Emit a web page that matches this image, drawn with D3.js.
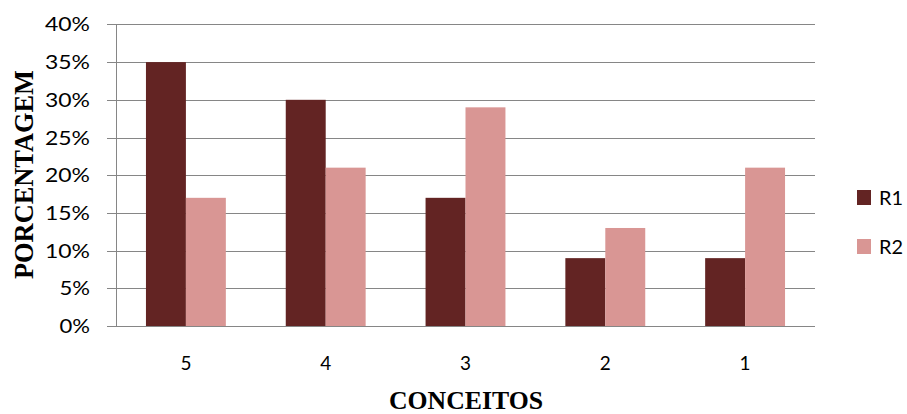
<!DOCTYPE html>
<html><head><meta charset="utf-8">
<script src="https://cdn.jsdelivr.net/npm/d3@7/dist/d3.min.js"></script>
<style>body{margin:0;background:#fff}svg{display:block}</style>
</head><body>
<script>
const categories = ["5","4","3","2","1"];
const seriesNames = ["R1","R2"];
const r1Values = [35,30,17,9,9];
const r2Values = [17,21,29,13,21];
const yTicks = [0,5,10,15,20,25,30,35,40];
const colors = ["#632423","#D99694"];

(function(){
const W=907,H=414;
const svg=d3.select("body").append("svg").attr("width",W).attr("height",H);
const pLeft=116,pRight=815,pTop=24.4,pBottom=326;
const xs=d3.scaleBand().domain(categories).range([pLeft,pRight]);
// Excel gap width 150%: bar w = band/3.5
const barW=xs.bandwidth()/3.5;
const y=d3.scaleLinear().domain([0,40]).range([pBottom,pTop]);

// gridlines
svg.append("g").selectAll("line").data(yTicks).join("line")
  .attr("x1",107).attr("x2",pRight).attr("y1",d=>Math.round(y(d))+0.5).attr("y2",d=>Math.round(y(d))+0.5)
  .attr("stroke","#868686").attr("stroke-width",1);
// y axis line
svg.append("line").attr("x1",pLeft+0.5).attr("x2",pLeft+0.5).attr("y1",Math.round(y(40))).attr("y2",pBottom+0.5)
  .attr("stroke","#868686");
// tick labels
svg.append("g").selectAll("text").data(yTicks).join("text")
  .attr("x",90).attr("y",d=>y(d)+7).attr("text-anchor","end")
  .attr("font-family","Lato, sans-serif").attr("font-size",19).attr("fill","#000")
  .attr("textLength",d=>String(d).length*14.5+16).attr("lengthAdjust","spacingAndGlyphs")
  .text(d=>d+"%");

const data=categories.map((c,i)=>({c,vals:[r1Values[i],r2Values[i]]}));
const g=svg.append("g");
data.forEach(d=>{
  const cx=xs(d.c)+xs.bandwidth()/2;
  d.vals.forEach((v,j)=>{
    g.append("rect").attr("x",cx-barW+j*barW).attr("width",barW)
      .attr("y",y(v)).attr("height",pBottom-y(v)).attr("fill",colors[j]);
  });
});
// bottom axis line drawn on top
svg.append("line").attr("x1",107).attr("x2",pRight).attr("y1",pBottom+0.5).attr("y2",pBottom+0.5).attr("stroke","#868686");

// category labels
svg.append("g").selectAll("text").data(categories).join("text")
  .attr("x",d=>xs(d)+xs.bandwidth()/2).attr("y",370).attr("text-anchor","middle")
  .attr("font-family","Lato, sans-serif").attr("font-size",20).attr("fill","#000")
  .attr("textLength",11).attr("lengthAdjust","spacingAndGlyphs")
  .text(d=>d);

// axis titles
svg.append("text").attr("x",466).attr("y",409).attr("text-anchor","middle")
  .attr("font-family","Liberation Serif, Times New Roman, serif").attr("font-weight","bold").attr("font-size",25)
  .attr("textLength",154).attr("lengthAdjust","spacingAndGlyphs").text("CONCEITOS");
svg.append("text").attr("transform","translate(33,174.5) rotate(-90)").attr("text-anchor","middle")
  .attr("font-family","Liberation Serif, Times New Roman, serif").attr("font-weight","bold").attr("font-size",28)
  .attr("textLength",209).attr("lengthAdjust","spacingAndGlyphs").text("PORCENTAGEM");

// legend
const leg=svg.append("g").selectAll("g").data(seriesNames).join("g")
  .attr("transform",(d,i)=>`translate(857,${190+i*49})`);
leg.append("rect").attr("width",14).attr("height",15).attr("fill",(d,i)=>colors[i]);
leg.append("text").attr("x",22).attr("y",15).attr("font-family","Lato, sans-serif").attr("font-size",20)
  .attr("textLength",24).attr("lengthAdjust","spacingAndGlyphs").text(d=>d);
})();
</script>
</body></html>
